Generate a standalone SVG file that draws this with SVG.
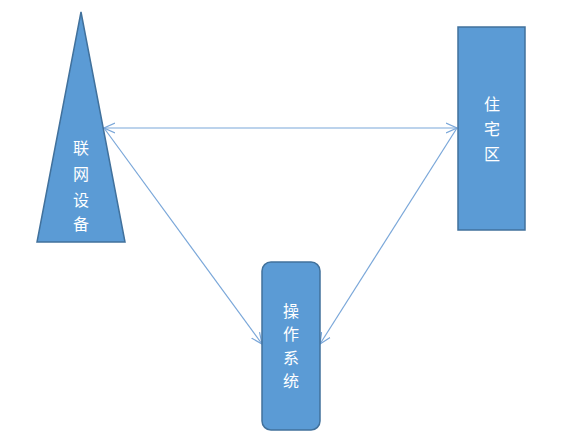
<svg xmlns="http://www.w3.org/2000/svg" width="575" height="441" viewBox="0 0 575 441">
<style>
.shape{fill:#5b9bd5;stroke:#41719c;stroke-width:1.5}
.lbl{fill:#ffffff;font-family:"Noto Sans CJK SC",sans-serif;font-size:16px;text-anchor:middle;dominant-baseline:central}
.conn{stroke:#7aa7d9;stroke-width:1.2;fill:none;marker-end:url(#ah)}
</style>
<defs>
<marker id="ah" viewBox="0 0 12 12" refX="11" refY="6" markerWidth="12" markerHeight="12" markerUnits="userSpaceOnUse" orient="auto-start-reverse">
<path d="M0,1 L11,6 L0,11" fill="none" stroke="#7aa7d9" stroke-width="1.2"/>
</marker>
</defs>
<rect width="575" height="441" fill="#ffffff"/>
<g id="connectors">
<line class="conn" x1="104" y1="128" x2="457" y2="128" style="marker-start:url(#ah)"/>
<line class="conn" x1="104" y1="128" x2="262" y2="344"/>
<line class="conn" x1="457" y1="128" x2="320" y2="344"/>
</g>
<g id="device">
<polygon class="shape" points="81,12 125,242 37,242"/>
<text class="lbl" x="81" y="147">联</text>
<text class="lbl" x="81" y="173">网</text>
<text class="lbl" x="81" y="199">设</text>
<text class="lbl" x="81" y="223">备</text>
</g>
<g id="residential">
<rect class="shape" x="458" y="27" width="67" height="203"/>
<text class="lbl" x="492" y="103">住</text>
<text class="lbl" x="492" y="128">宅</text>
<text class="lbl" x="492" y="153">区</text>
</g>
<g id="os">
<rect class="shape" x="262" y="262" width="58" height="168" rx="9"/>
<text class="lbl" x="291" y="310">操</text>
<text class="lbl" x="291" y="333">作</text>
<text class="lbl" x="291" y="357">系</text>
<text class="lbl" x="291" y="380">统</text>
</g>
</svg>
